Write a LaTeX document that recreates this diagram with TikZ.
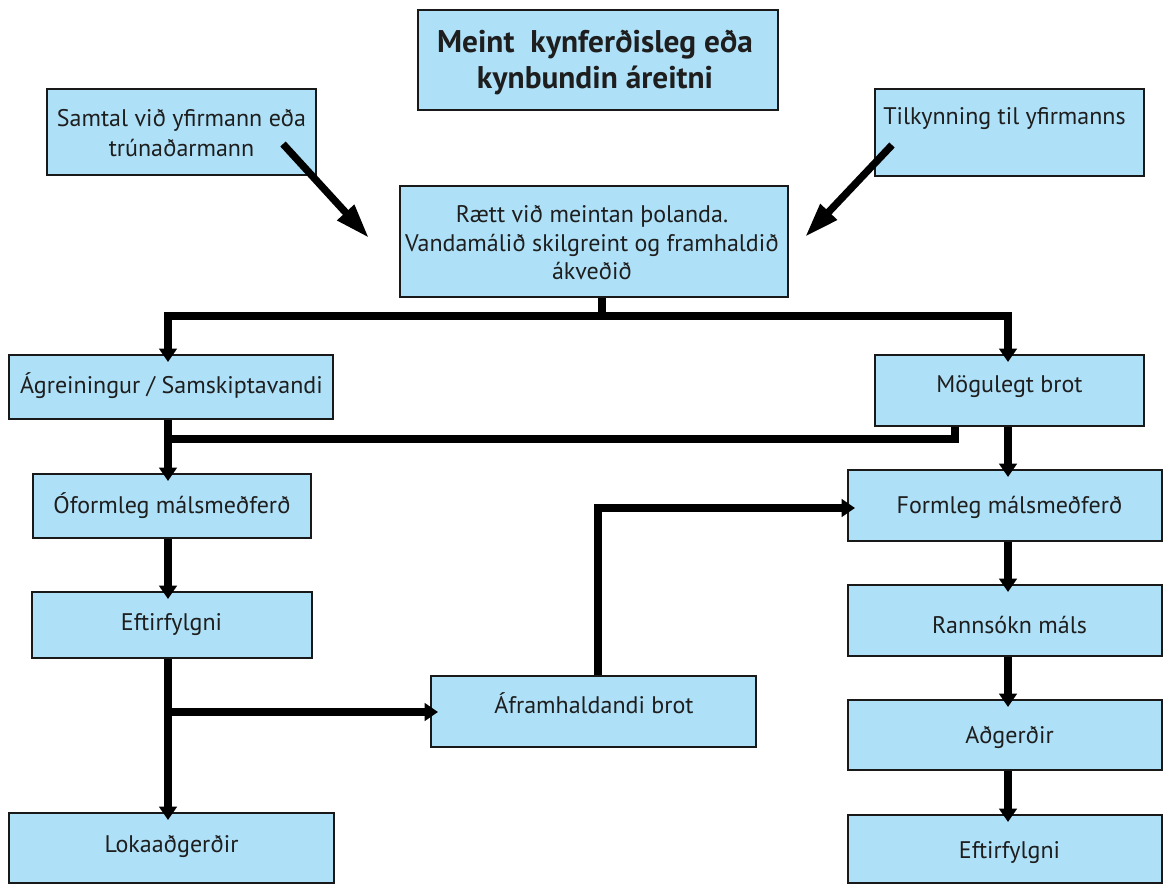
\documentclass[tikz,border=0pt]{standalone}
\usepackage{fontspec}
\setmainfont{PT Sans}
\usetikzlibrary{arrows.meta}
\definecolor{boxfill}{RGB}{174,224,247}
\definecolor{txt}{RGB}{30,30,30}
\newcommand\bx[5]{\node[box, minimum width=#4*0.75pt, minimum height=#5*0.75pt] (#1) at (#2,#3) {};}
\begin{document}
\begin{tikzpicture}[x=0.75pt,y=-0.75pt,
 box/.style={draw=black!90, line width=1.5pt, fill=boxfill, rectangle, inner sep=0pt},
 lbl/.style={anchor=base, text=txt, font=\fontsize{18}{22}\selectfont, inner sep=0pt},
 ttl/.style={anchor=base, text=txt, font=\fontsize{23.5}{27}\selectfont\bfseries, inner sep=0pt},
 conn/.style={line width=6pt, line join=miter, black},
 arr/.style={conn, -{Triangle[length=10pt,width=13pt]}, shorten >=-6pt},
 darr/.style={line width=5.5pt, black, -{Triangle[length=26pt,width=16pt]}}
]
\useasboundingbox (0,0) rectangle (1167,884);

% boxes
\bx{title}{598}{60}{360}{100}
\bx{samtal}{181.5}{132}{269}{86}
\bx{tilk}{1009.5}{132.5}{269}{87}
\bx{raett}{594}{241.5}{388}{111}
\bx{agr}{171}{387}{324}{64}
\bx{mog}{1009.5}{390.5}{269}{71}
\bx{ofor}{172}{506}{278}{64}
\bx{form}{1005}{505.5}{314}{71}
\bx{eftL}{172}{625}{280}{66}
\bx{rann}{1005}{620.5}{314}{71}
\bx{afr}{593.5}{711.5}{325}{71}
\bx{adg}{1005}{735}{314}{70}
\bx{lok}{171.5}{848}{325}{70}
\bx{eftR}{1005}{849}{314}{68}

% texts
\node[ttl] (t1a) at (595,53) {Meint~ kynferðisleg eða};
\node[ttl] (t1b) at (595,89) {kynbundin áreitni};
\node[lbl] (t2a) at (181.5,127) {Samtal við yfirmann eða};
\node[lbl] (t2b) at (181.5,157) {trúnaðarmann};
\node[lbl] (t3) at (1004.5,125) {Tilkynning til yfirmanns};
\node[lbl] (t4a) at (592,223) {Rætt við meintan þolanda.};
\node[lbl] (t4b) at (592,252) {Vandamálið skilgreint og framhaldið};
\node[lbl] (t4c) at (592,280) {ákveðið};
\node[lbl] (t5) at (171.5,393) {Ágreiningur / Samskiptavandi};
\node[lbl] (t6) at (1009.5,392) {Mögulegt brot};
\node[lbl] (t7) at (172,513) {Óformleg málsmeðferð};
\node[lbl] (t8) at (1009.5,513) {Formleg málsmeðferð};
\node[lbl] (t9) at (171.5,630) {Eftirfylgni};
\node[lbl] (t10) at (1009.5,633) {Rannsókn máls};
\node[lbl] (t11) at (594,713) {Áframhaldandi brot};
\node[lbl] (t12) at (1009.5,743) {Aðgerðir};
\node[lbl] (t13) at (171.5,852) {Lokaaðgerðir};
\node[lbl] (t14) at (1009.5,858) {Eftirfylgni};

% connectors
\coordinate (bus) at (602,316);
\coordinate (busL) at (168,316);
\coordinate (busR) at (1008,316);
\draw[conn] (raett.south -| bus) -- (bus);
\draw[arr] (busR) -- (busL) -- (agr.north -| busL);
\draw[arr] (busL) -- (busR) -- (mog.north -| busR);

\coordinate (m1) at (955,439);
\coordinate (m2) at (168,439);
\draw[conn] (mog.south -| m1) -- (m1) -- (m2);

\draw[arr] (agr.south -| busL) -- (ofor.north -| busL);
\draw[arr] (mog.south -| busR) -- (form.north -| busR);
\draw[arr] (ofor.south -| busL) -- (eftL.north -| busL);
\draw[arr] (eftL.south -| busL) -- (lok.north -| busL);
\coordinate (b) at (168,712);
\draw[arr] (b) -- (afr.west |- b);
\coordinate (c) at (598,508);
\draw[arr] (afr.north -| c) -- (c) -- (form.west |- c);
\draw[arr] (form.south -| busR) -- (rann.north -| busR);
\draw[arr] (rann.south -| busR) -- (adg.north -| busR);
\draw[arr] (adg.south -| busR) -- (eftR.north -| busR);

\coordinate (d1s) at (283,144);
\coordinate (d1e) at (369,238);
\draw[darr] (d1s) -- (d1e);
\coordinate (d2s) at (892,145);
\coordinate (d2e) at (805,237);
\draw[darr] (d2s) -- (d2e);
\end{tikzpicture}
\end{document}
